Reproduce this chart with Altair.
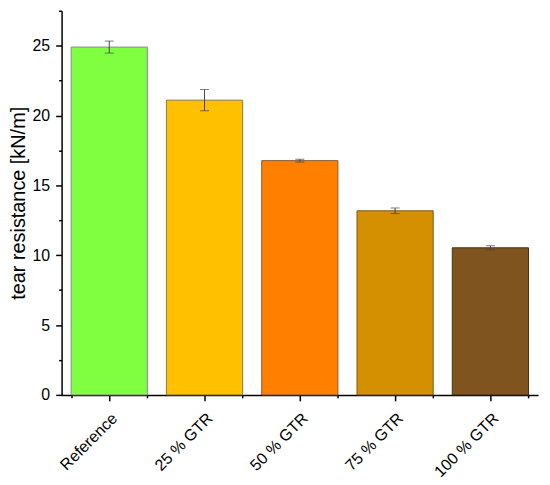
import altair as alt
import pandas as pd

categories = ["Reference", "25 % GTR", "50 % GTR", "75 % GTR", "100 % GTR"]
values = [24.9, 21.1, 16.77, 13.18, 10.53]
errors = [0.43, 0.76, 0.1, 0.2, 0.15]
colors = ["#80FF40", "#FFC000", "#FF8000", "#D49000", "#80541F"]
strokes = ["#8a8a8a", "#8a7a40", "#8a5a30", "#7a5a20", "#4a3010"]
y_major = [0, 5, 10, 15, 20, 25]
y_minor = [2.5, 7.5, 12.5, 17.5, 22.5, 27.5]

df = pd.DataFrame({
    "cat": categories,
    "val": values,
    "lo": [v - e for v, e in zip(values, errors)],
    "hi": [v + e for v, e in zip(values, errors)],
    "color": colors,
    "stroke": strokes,
})

FONT = "Liberation Sans"

xscale = alt.Scale(domain=categories, paddingInner=0.2, paddingOuter=0.1)
yscale = alt.Scale(domain=[0, 27.5], nice=False, zero=True)

x_main = alt.X("cat:N", scale=xscale, sort=categories, axis=alt.Axis(
    title=None, labelAngle=-45, labelAlign="right", labelBaseline="top",
    labelFontSize=16, labelFont=FONT, labelColor="black", labelPadding=9,
    tickSize=6, tickColor="black", tickWidth=1.5, domainColor="black",
    domainWidth=1.5, orient="bottom"))

y_main = alt.Y("val:Q", scale=yscale, axis=alt.Axis(
    title="tear resistance [kN/m]", titleFontSize=20, titleFont=FONT,
    titleFontWeight="normal", titleColor="black", titlePadding=4,
    values=y_major, labelFontSize=16, labelFont=FONT, labelColor="black",
    labelPadding=6, tickSize=6, tickColor="black", tickWidth=1.5,
    domainColor="black", domainWidth=1.5, grid=False, orient="left"))

bars = alt.Chart(df).mark_bar(strokeWidth=1).encode(
    x=x_main,
    y=y_main,
    color=alt.Color("color:N", scale=None),
    stroke=alt.Stroke("stroke:N", scale=None),
)

minor = alt.Chart(df).mark_bar(opacity=0).encode(
    x=alt.X("cat:N", scale=xscale, sort=categories, axis=alt.Axis(
        title=None, labels=False, tickSize=3, tickColor="black", tickWidth=1.5,
        tickBand="extent", domain=False, orient="bottom")),
    y=alt.Y("val:Q", scale=yscale, axis=alt.Axis(
        title=None, labels=False, values=y_minor, tickSize=3, tickColor="black",
        tickWidth=1.5, domain=False, grid=False, orient="left")),
)

rule = alt.Chart(df).mark_rule(color="#444444", strokeWidth=1).encode(
    x=alt.X("cat:N", scale=xscale, sort=categories, axis=None),
    y=alt.Y("lo:Q", scale=yscale, axis=None),
    y2="hi:Q",
)
cap_lo = alt.Chart(df).mark_tick(color="#444444", thickness=1, size=9, orient="horizontal").encode(
    x=alt.X("cat:N", scale=xscale, sort=categories, axis=None),
    y=alt.Y("lo:Q", scale=yscale, axis=None),
)
cap_hi = alt.Chart(df).mark_tick(color="#444444", thickness=1, size=9, orient="horizontal").encode(
    x=alt.X("cat:N", scale=xscale, sort=categories, axis=None),
    y=alt.Y("hi:Q", scale=yscale, axis=None),
)

chart = alt.layer(minor, bars, rule, cap_lo, cap_hi).resolve_axis(
    x="independent", y="independent"
).properties(
    width=480, height=387,
    autosize=alt.AutoSizeParams(type="none"),
    padding={"left": 54, "top": 1, "right": 4, "bottom": 88},
).configure(background="white").configure_view(stroke=None)

chart.save("out.html", embed_options={"renderer": "svg", "actions": False})
